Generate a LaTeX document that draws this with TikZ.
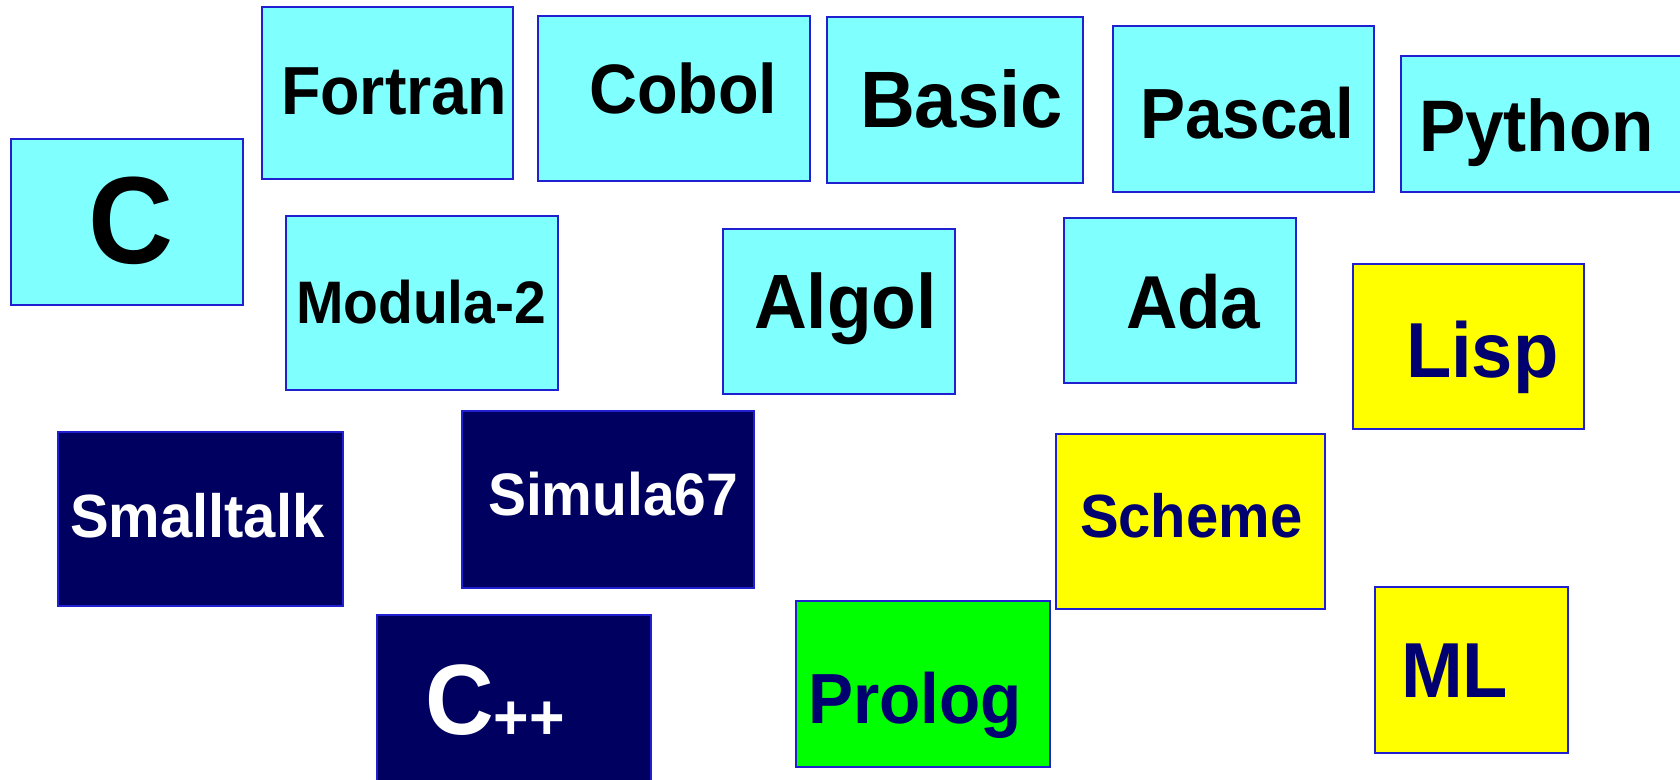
\documentclass[tikz,border=0pt]{standalone}
\usepackage{fontspec}
\newfontfamily\lblfont{Liberation Sans}[FakeStretch=0.95]
\definecolor{cyanbox}{HTML}{80FFFF}
\definecolor{navybox}{HTML}{000060}
\definecolor{yellowbox}{HTML}{FFFF00}
\definecolor{greenbox}{HTML}{00FF00}
\definecolor{edgeblue}{HTML}{2020D0}
\definecolor{navytext}{HTML}{000070}
\tikzset{
  langbox/.style={draw=edgeblue, line width=1.6pt, rectangle, inner sep=0pt, outer sep=0pt, anchor=north west},
  cbox/.style={langbox, fill=cyanbox},
  nbox/.style={langbox, fill=navybox, line width=1.2pt},
  ybox/.style={langbox, fill=yellowbox},
  gbox/.style={langbox, fill=greenbox},
  lbl/.style={inner sep=0pt, outer sep=0pt, anchor=base west},
}
\newcommand{\fsz}[1]{\lblfont\bfseries\fontsize{#1}{#1}\selectfont}
\begin{document}
\begin{tikzpicture}[x=1pt,y=-1pt]
\useasboundingbox (0,0) rectangle (1680,779);
% boxes
\node[cbox, minimum width=232, minimum height=166] (c) at (11,139) {};
\node[cbox, minimum width=251, minimum height=172] (fortran) at (262,7) {};
\node[cbox, minimum width=272, minimum height=165] (cobol) at (538,16) {};
\node[cbox, minimum width=256, minimum height=166] (basic) at (827,17) {};
\node[cbox, minimum width=261, minimum height=166] (pascal) at (1113,26) {};
\node[cbox, minimum width=300, minimum height=136] (python) at (1401,56) {};
\node[cbox, minimum width=272, minimum height=174] (modula) at (286,216) {};
\node[cbox, minimum width=232, minimum height=165] (algol) at (723,229) {};
\node[cbox, minimum width=232, minimum height=165] (ada) at (1064,218) {};
\node[ybox, minimum width=231, minimum height=165] (lisp) at (1353,264) {};
\node[nbox, minimum width=285, minimum height=174] (smalltalk) at (58,432) {};
\node[nbox, minimum width=292, minimum height=177] (simula) at (462,411) {};
\node[ybox, minimum width=269, minimum height=175] (scheme) at (1056,434) {};
\node[nbox, minimum width=274, minimum height=180] (cpp) at (377,615) {};
\node[gbox, minimum width=254, minimum height=166] (prolog) at (796,601) {};
\node[ybox, minimum width=193, minimum height=166] (ml) at (1375,587) {};
% labels
\node[lbl, font=\fsz{124}] (c-t) at (88,263) {C};
\node[lbl, font=\fsz{68}] (fortran-t) at (281,114) {Fortran};
\node[lbl, font=\fsz{70}] (cobol-t) at (589,113) {Cobol};
\node[lbl, font=\fsz{80}] (basic-t) at (860,127) {Basic};
\node[lbl, font=\fsz{71}] (pascal-t) at (1140,138) {Pascal};
\node[lbl, font=\fsz{73}] (python-t) at (1419,151) {Python};
\node[lbl, font=\fsz{60}] (modula-t) at (296,323) {Modula-2};
\node[lbl, font=\fsz{77}] (algol-t) at (754,328) {Algol};
\node[lbl, font=\fsz{75}] (ada-t) at (1126,328) {Ada};
\node[lbl, font=\fsz{78}, text=navytext] (lisp-t) at (1406,377) {Lisp};
\node[lbl, font=\fsz{61}, text=white] (smalltalk-t) at (70,537) {Smalltalk};
\node[lbl, font=\fsz{60}, text=white] (simula-t) at (488,515) {Simula67};
\node[lbl, font=\fsz{61}, text=navytext] (scheme-t) at (1080,537) {Scheme};
\node[lbl, font=\fsz{100}, text=white] (cpp-t) at (425,734) {C\raisebox{-5pt}{\fsz{64}++}};
\node[lbl, font=\fsz{71}, text=navytext] (prolog-t) at (808,723) {Prolog};
\node[lbl, font=\fsz{78}, text=navytext] (ml-t) at (1401,697) {ML};
\end{tikzpicture}
\end{document}
